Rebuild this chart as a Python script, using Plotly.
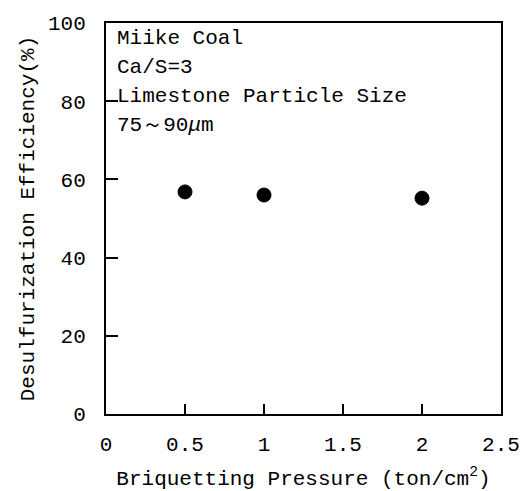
import plotly.graph_objects as go

pressure = [0.5, 1.0, 2.0]
efficiency = [56.8, 56.0, 55.2]
x_ticks = [0, 0.5, 1, 1.5, 2, 2.5]
x_labels = ["0", "0.5", "1", "1.5", "2", "2.5"]
y_ticks = [0, 20, 40, 60, 80, 100]
note_lines = ["Miike Coal", "Ca/S=3", "Limestone Particle Size", "75～90<i>μ</i>m"]

FONT = "Liberation Mono"

fig = go.Figure()
fig.add_trace(go.Scatter(
    x=pressure, y=efficiency, mode="markers",
    marker=dict(color="black", size=14, line=dict(color="black", width=1)),
    showlegend=False,
))

L, R, T, B = 106, 23, 23, 77
H = 491 - T - B
ycent = [38, 67, 96, 125]
for txt, yc in zip(note_lines, ycent):
    fig.add_annotation(
        text=txt, xref="paper", yref="paper",
        x=0.022, y=(491 - B - yc) / H,
        xanchor="left", yanchor="middle", showarrow=False,
        font=dict(family=FONT, size=21, color="black"),
    )

fig.update_layout(
    width=524, height=491,
    margin=dict(l=L, r=R, t=T, b=B),
    paper_bgcolor="white", plot_bgcolor="white",
    font=dict(family=FONT, size=21, color="black"),
    xaxis=dict(
        range=[0, 2.5], tickvals=x_ticks, ticktext=x_labels,
        showline=True, linecolor="black", linewidth=2, mirror=True,
        ticks="inside", ticklen=10, tickwidth=1.5, tickcolor="black",
        showgrid=False, zeroline=False, ticklabelstandoff=10,
        ticklabeloverflow="allow", automargin=False,
        title=dict(text="Briquetting Pressure (ton/cm<sup>2</sup>)", standoff=14,
                   font=dict(family=FONT, size=21)),
        tickfont=dict(family=FONT, size=21),
    ),
    yaxis=dict(
        range=[0, 100], tickvals=y_ticks,
        showline=True, linecolor="black", linewidth=2, mirror=True,
        ticks="inside", ticklen=12, tickwidth=1.5, tickcolor="black",
        showgrid=False, zeroline=False, ticklabelstandoff=14, automargin=False,
        title=dict(text="Desulfurization Efficiency(%)", standoff=8,
                   font=dict(family=FONT, size=21)),
        tickfont=dict(family=FONT, size=21),
    ),
)

fig.write_html("out.html")
